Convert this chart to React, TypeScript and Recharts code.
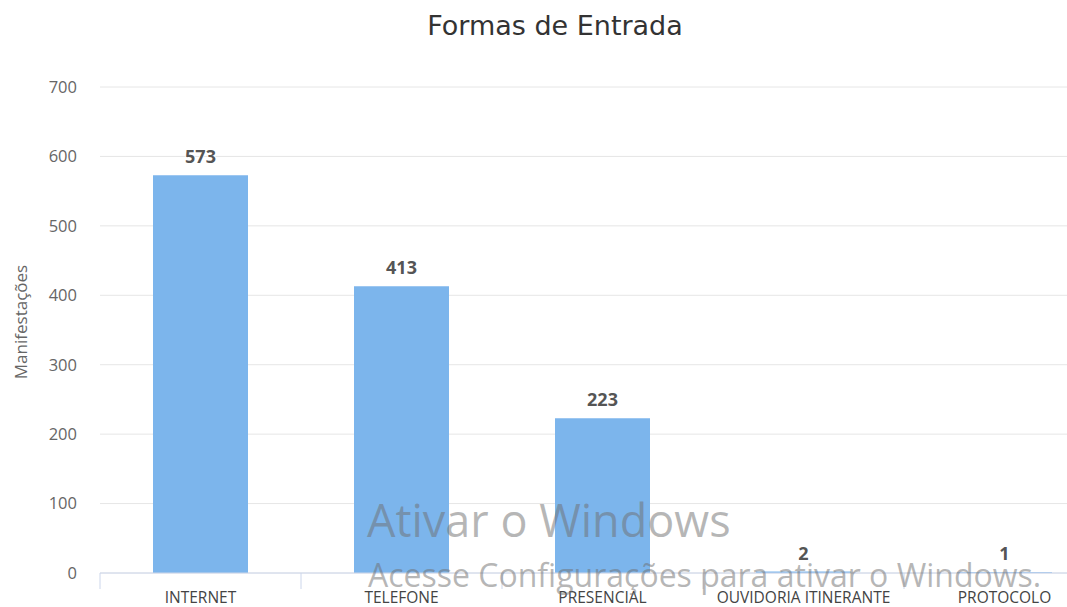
import { BarChart, Bar, XAxis, YAxis, CartesianGrid, LabelList, Label } from "recharts";

const categories = ["INTERNET", "TELEFONE", "PRESENCIAL", "OUVIDORIA ITINERANTE", "PROTOCOLO"];
const manifestacoes = [573, 413, 223, 2, 1];
const yTicks = [0, 100, 200, 300, 400, 500, 600, 700];

const data = categories.map((name, i) => ({ name, value: manifestacoes[i] }));

const font = "'Open Sans', 'Segoe UI', sans-serif";

const CHART_W = 1115;
const MARGIN_R = 10;
const Y_AXIS_W = 100;
// width of one category band, to put the tick marks between categories
const BAND = (CHART_W - MARGIN_R - Y_AXIS_W) / categories.length;

function YTitle({ viewBox }: any) {
  const cy = viewBox.y + viewBox.height / 2 - 8;
  return (
    <text
      x={20}
      y={cy}
      transform={`rotate(-90 20 ${cy})`}
      textAnchor="middle"
      dominantBaseline="central"
      fill="#666"
      fontSize={17}
      fontFamily={font}
    >
      Manifestações
    </text>
  );
}

function CategoryTick({ x, y, payload, index }: any) {
  const axisY = y - 18;
  return (
    <g>
      <line x1={x - BAND / 2} x2={x - BAND / 2} y1={axisY} y2={axisY + 16} stroke="#ccd6eb" />
      {index === categories.length - 1 && (
        <line x1={x + BAND / 2} x2={x + BAND / 2} y1={axisY} y2={axisY + 16} stroke="#ccd6eb" />
      )}
      <text x={x} y={axisY + 30} textAnchor="middle" fill="#444" fontSize={15.5} fontFamily={font}>
        {payload.value}
      </text>
    </g>
  );
}

export default function App() {
  return (
    <div
      style={{
        position: "absolute",
        left: 0,
        top: 0,
        width: 1067,
        height: 607,
        overflow: "hidden",
        background: "#fff",
      }}
    >
      <div
        style={{
          position: "absolute",
          left: 0,
          top: 10,
          width: 1110,
          textAlign: "center",
          fontFamily: "'DejaVu Sans', sans-serif",
          fontSize: 27,
          color: "#333",
        }}
      >
        Formas de Entrada
      </div>
      <BarChart
        width={CHART_W}
        height={607}
        data={data}
        margin={{ top: 87, right: MARGIN_R, bottom: 0, left: 0 }}
      >
        <CartesianGrid vertical={false} stroke="#e6e6e6" />
        <XAxis
          dataKey="name"
          height={34}
          axisLine={{ stroke: "#ccd6eb" }}
          tickLine={false}
          tickSize={0}
          tickMargin={18}
          interval={0}
          tick={<CategoryTick />}
        />
        <YAxis
          width={Y_AXIS_W}
          domain={[0, 700]}
          ticks={yTicks}
          axisLine={false}
          tickLine={false}
          tickSize={0}
          tickMargin={23}
          tick={{ fill: "#666", fontSize: 16.5, fontFamily: font }}
        >
          <Label content={<YTitle />} />
        </YAxis>
        <Bar dataKey="value" fill="#7cb5ec" barSize={95} isAnimationActive={false}>
          <LabelList
            dataKey="value"
            position="top"
            offset={12}
            fill="#555"
            fontSize={18}
            fontWeight="bold"
            fontFamily={font}
            stroke="#fff"
            strokeWidth={2}
            paintOrder="stroke"
          />
        </Bar>
      </BarChart>
      <div
        style={{
          position: "absolute",
          left: 367,
          top: 489,
          fontFamily: font,
          fontSize: 45,
          color: "rgba(110,110,110,0.5)",
          whiteSpace: "nowrap",
          pointerEvents: "none",
        }}
      >
        Ativar o Windows
      </div>
      <div
        style={{
          position: "absolute",
          left: 368,
          top: 553,
          fontFamily: font,
          fontSize: 32,
          color: "rgba(110,110,110,0.5)",
          whiteSpace: "nowrap",
          pointerEvents: "none",
        }}
      >
        Acesse Configurações para ativar o Windows.
      </div>
    </div>
  );
}
